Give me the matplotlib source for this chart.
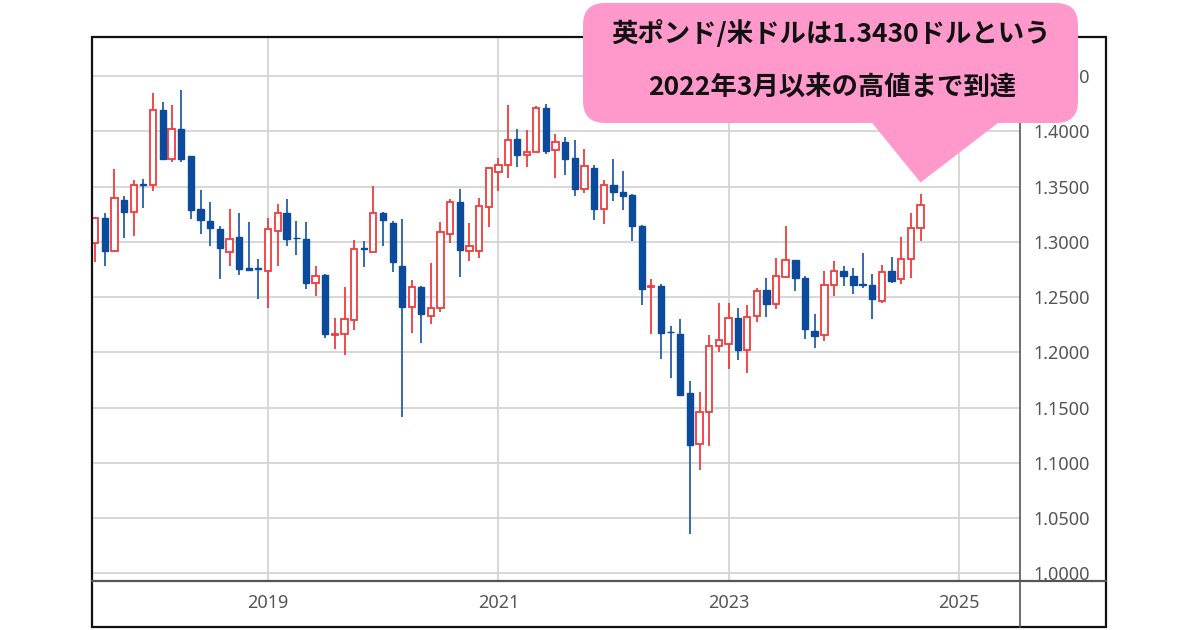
import numpy as np
import pandas as pd
import matplotlib
matplotlib.use('Agg')
import matplotlib.pyplot as plt
import matplotlib.dates as mdates
from matplotlib.patches import Rectangle, FancyBboxPatch, Polygon
from matplotlib.lines import Line2D
from matplotlib.transforms import IdentityTransform

plt.rcParams['font.family'] = ['Noto Sans', 'Noto Sans CJK JP', 'DejaVu Sans']

# 月足 GBP/USD 2017年7月〜2024年9月
months = pd.date_range('2017-07-01', periods=87, freq='MS')

opens = [1.2993, 1.3219, 1.2917, 1.3378, 1.3270, 1.3527,
         1.3520, 1.4193, 1.3753, 1.4018, 1.3777, 1.3294, 1.3188, 1.3120, 1.2908, 1.3047, 1.2767, 1.2766,
         1.2736, 1.3098, 1.3264, 1.3040, 1.3029, 1.2631, 1.2697, 1.2160, 1.2163, 1.2292, 1.2945, 1.2908,
         1.3264, 1.3174, 1.2781, 1.2410, 1.2594, 1.2329, 1.2405, 1.3068, 1.3364, 1.2917, 1.2917, 1.3318,
         1.3632, 1.3695, 1.3933, 1.3783, 1.3816, 1.4214, 1.3828, 1.3903, 1.3762, 1.3475, 1.3671, 1.3300,
         1.3520, 1.3451, 1.3424, 1.3149, 1.2594, 1.2606, 1.2189, 1.2169, 1.1629, 1.1174, 1.1463, 1.2063,
         1.2079, 1.2314, 1.2018, 1.2329, 1.2561, 1.2443, 1.2685, 1.2835, 1.2676, 1.2193, 1.2154, 1.2615,
         1.2736, 1.2691, 1.2624, 1.2615, 1.2470, 1.2736, 1.2661, 1.2848, 1.3128]
highs = [1.3225, 1.3264, 1.3662, 1.3415, 1.3559, 1.3566,
         1.4344, 1.4271, 1.4244, 1.4374, 1.3780, 1.3469, 1.3364, 1.3143, 1.3294, 1.3264, 1.3179, 1.2842,
         1.3219, 1.3348, 1.3385, 1.3188, 1.3179, 1.2787, 1.2706, 1.2314, 1.2591, 1.3014, 1.3008, 1.3511,
         1.3268, 1.3188, 1.3210, 1.2652, 1.2600, 1.2812, 1.3179, 1.3391, 1.3481, 1.3176, 1.3400, 1.3675,
         1.3762, 1.4244, 1.4024, 1.4009, 1.4230, 1.4253, 1.3979, 1.3953, 1.3921, 1.3837, 1.3701, 1.3559,
         1.3747, 1.3641, 1.3430, 1.3158, 1.2661, 1.2624, 1.2244, 1.2305, 1.1740, 1.1644, 1.2154, 1.2450,
         1.2450, 1.2405, 1.2428, 1.2585, 1.2676, 1.2851, 1.3143, 1.2840, 1.2690, 1.2344, 1.2736, 1.2826,
         1.2787, 1.2767, 1.2902, 1.2706, 1.2796, 1.2866, 1.3047, 1.3264, 1.3430]
lows = [1.2817, 1.2787, 1.2910, 1.3038, 1.3053, 1.3309,
        1.3460, 1.3745, 1.3722, 1.3722, 1.3210, 1.3068, 1.2968, 1.2667, 1.2787, 1.2697, 1.2735, 1.2480,
        1.2404, 1.2787, 1.2962, 1.2878, 1.2570, 1.2510, 1.2133, 1.2027, 1.1973, 1.2202, 1.2776, 1.2908,
        1.2968, 1.2727, 1.1418, 1.2172, 1.2088, 1.2262, 1.2365, 1.2993, 1.2685, 1.2830, 1.2857, 1.3137,
        1.3460, 1.3575, 1.3677, 1.3677, 1.3816, 1.3792, 1.3575, 1.3602, 1.3415, 1.3445, 1.3195, 1.3167,
        1.3369, 1.3285, 1.3007, 1.2428, 1.2163, 1.1943, 1.1767, 1.1605, 1.0353, 1.0935, 1.1152, 1.2003,
        1.1852, 1.1928, 1.1810, 1.2278, 1.2323, 1.2389, 1.2670, 1.2555, 1.2118, 1.2042, 1.2102, 1.2510,
        1.2600, 1.2525, 1.2585, 1.2305, 1.2450, 1.2631, 1.2624, 1.2670, 1.3007]
closes = [1.3219, 1.2917, 1.3400, 1.3270, 1.3520, 1.3515,
          1.4193, 1.3753, 1.4018, 1.3753, 1.3288, 1.3197, 1.3122, 1.2948, 1.3029, 1.2758, 1.2745, 1.2757,
          1.3113, 1.3264, 1.3023, 1.3033, 1.2631, 1.2691, 1.2163, 1.2170, 1.2299, 1.2941, 1.2938, 1.3264,
          1.3197, 1.2817, 1.2410, 1.2591, 1.2350, 1.2405, 1.3089, 1.3364, 1.2923, 1.2962, 1.3324, 1.3671,
          1.3695, 1.3921, 1.3783, 1.3816, 1.4208, 1.3822, 1.3903, 1.3753, 1.3475, 1.3686, 1.3300, 1.3520,
          1.3451, 1.3415, 1.3143, 1.2570, 1.2606, 1.2178, 1.2183, 1.1614, 1.1167, 1.1463, 1.2063, 1.2111,
          1.2314, 1.2018, 1.2323, 1.2555, 1.2441, 1.2690, 1.2835, 1.2676, 1.2208, 1.2148, 1.2615, 1.2736,
          1.2691, 1.2615, 1.2615, 1.2486, 1.2727, 1.2645, 1.2848, 1.3128, 1.3333]

y_ticks = [1.00, 1.05, 1.10, 1.15, 1.20, 1.25, 1.30, 1.35, 1.40, 1.45]
year_ticks = [2019, 2021, 2023, 2025]
msg_lines = ['英ポンド/米ドルは1.3430ドルという', '2022年3月以来の高値まで到達']

red = '#f23b3b'
blue = '#0c4a9c'
blue_wick = '#2460a8'

W, H = 1200, 630
fig = plt.figure(figsize=(12, 6.3), dpi=100)
fig.patch.set_facecolor('white')
ax = fig.add_axes([92 / W, 1 - 581 / H, (1020 - 92) / W, (581 - 37) / H])

x = mdates.date2num(months)
o = np.array(opens)
h = np.array(highs)
l = np.array(lows)
c = np.array(closes)
up = c >= o

# ヒゲ
ax.vlines(x, l, h, colors=np.where(up, red, blue_wick), lw=1.3, zorder=2)
# 実体
bot = np.minimum(o, c)
hgt = np.maximum(np.abs(c - o), 0.0006)
ax.bar(x[up], hgt[up], bottom=bot[up], width=20, facecolor='white',
       edgecolor=red, lw=1.3, zorder=3)
ax.bar(x[~up], hgt[~up], bottom=bot[~up], width=20, facecolor=blue,
       edgecolor=blue, lw=1.0, zorder=3)

t2019 = mdates.date2num(pd.Timestamp('2019-01-01'))
ax.set_xlim(t2019 - 558.3, t2019 + 2385.5)
ax.set_ylim(0.9932, 1.4855)

ax.set_xticks([mdates.date2num(pd.Timestamp(f'{yr}-01-01')) for yr in year_ticks])
ax.set_xticklabels([str(yr) for yr in year_ticks])
ax.yaxis.tick_right()
ax.set_yticks(y_ticks)
ax.set_yticklabels([f'{v:.4f}' for v in y_ticks])
ax.tick_params(axis='x', length=0, pad=9.5, labelsize=13, labelcolor='#555555')
ax.tick_params(axis='y', length=0, pad=10, labelsize=13, labelcolor='#555555')
ax.grid(True, color='#d4d4d4', lw=1.3)
ax.set_axisbelow(True)
for s in ax.spines.values():
    s.set_visible(False)

# 枠線
fig.add_artist(Rectangle((92 / W, 1 - 627 / H), (1106 - 92) / W, (627 - 37) / H,
                         fill=False, ec='#111111', lw=1.6, transform=fig.transFigure))
fig.add_artist(Line2D([92 / W, 1106 / W], [1 - 581 / H, 1 - 581 / H],
                      color='#555555', lw=1.6, transform=fig.transFigure))
fig.add_artist(Line2D([1020 / W, 1020 / W], [1 - 37 / H, 1 - 627 / H],
                      color='#555555', lw=1.2, transform=fig.transFigure))

# 吹き出し(先端は最後のローソク足の高値の上)
tip_x, tip_y = ax.transData.transform((x[-1], h[-1]))
tip_y += 12
pink = '#ff99cc'
box = FancyBboxPatch((583, H - 123), 1078 - 583, 120,
                     boxstyle='round,pad=0,rounding_size=22',
                     fc=pink, ec='none', transform=IdentityTransform(), zorder=5)
fig.add_artist(box)
tail = Polygon([(tip_x - 50, H - 121), (tip_x + 80, H - 121), (tip_x, tip_y)],
               closed=True, fc=pink, ec='none', transform=IdentityTransform(), zorder=5)
fig.add_artist(tail)

fig.text(831 / W, 1 - 34 / H, msg_lines[0], ha='center', va='center', fontsize=19,
         fontweight='bold', color='#111111', family=['Noto Sans CJK JP', 'DejaVu Sans'], zorder=6)
fig.text(832 / W, 1 - 88 / H, msg_lines[1], ha='center', va='center', fontsize=19,
         fontweight='bold', color='#111111', family=['Noto Sans CJK JP', 'DejaVu Sans'], zorder=6)

fig.savefig('out.png', dpi=100)
